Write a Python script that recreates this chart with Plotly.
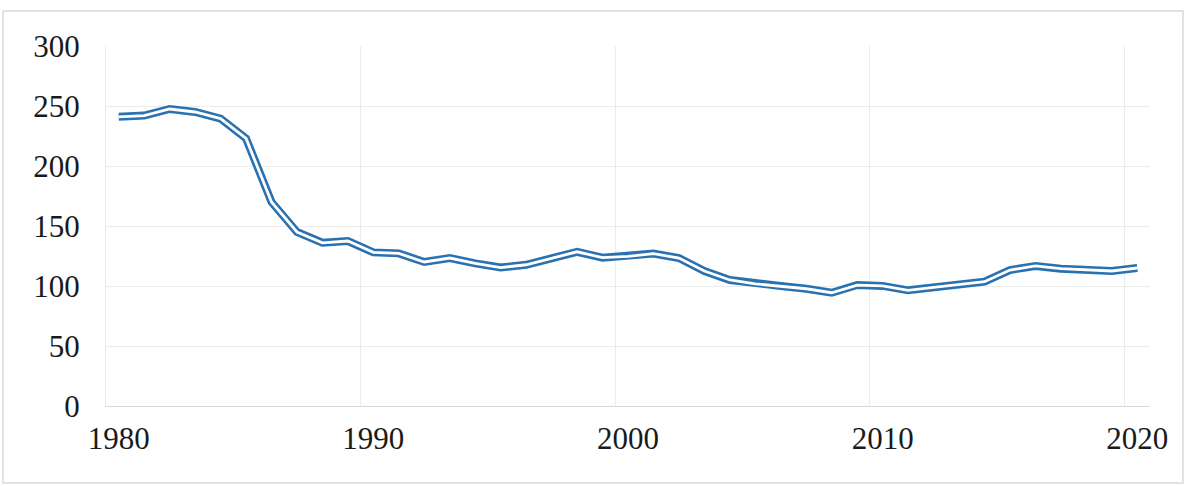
import plotly.graph_objects as go

years = list(range(1980, 2021))
values = [241, 242, 247.5, 245, 239.5, 223, 170, 145, 136, 137.5,
          128, 127.2, 120, 123.3, 118.8, 115.4, 117.7, 122.8, 128.5, 123.6,
          124.7, 127, 123.3, 112.5, 105, 101.8, 100, 97.7, 94.4, 100.8,
          100.1, 96.4, 98.9, 101.1, 103.6, 113.3, 116.7, 114.4, 113.5, 112.5,
          115]
x_tick_vals = [1980, 1990, 2000, 2010, 2020]
x_tick_text = ["1980", "1990", "2000", "2010", "2020"]
y_tick_vals = [0, 50, 100, 150, 200, 250, 300]

W, H = 1195, 486
ml, mr, mt, mb = 106, 45, 46, 80
pw, ph = W - ml - mr, H - mt - mb

blue = "#2A71B1"
grid = "#EBEBEB"
font = dict(family="Liberation Serif, Times New Roman, serif", size=31, color="#1a1a1a")

fig = go.Figure()
fig.add_trace(go.Scatter(x=years, y=values, mode="lines",
                         line=dict(color=blue, width=8), hoverinfo="skip", showlegend=False))
fig.add_trace(go.Scatter(x=years, y=values, mode="lines",
                         line=dict(color="white", width=2.8), showlegend=False))

fig.update_layout(
    width=W, height=H,
    margin=dict(l=ml, r=mr, t=mt, b=mb),
    paper_bgcolor="white", plot_bgcolor="white",
    font=font,
    xaxis=dict(range=[1979.5, 2020.5], tickmode="array", tickvals=x_tick_vals, ticktext=x_tick_text,
               showgrid=False, ticks="", showline=True, linecolor="#D9D9D9", linewidth=1.2,
               zeroline=False, ticklabelstandoff=5,
               minor=dict(tickmode="array", tickvals=[1979.5, 1989.5, 1999.5, 2009.5, 2019.5],
                          showgrid=True, gridcolor=grid, gridwidth=1.2, ticks="")),
    yaxis=dict(range=[0, 300], tickmode="array", tickvals=y_tick_vals,
               showgrid=True, gridcolor=grid, gridwidth=1.2, zeroline=False,
               showline=True, linecolor=grid, linewidth=1.2, ticks="", ticklabelstandoff=19),
    shapes=[dict(type="rect", xref="paper", yref="paper",
                 x0=(3 - ml) / pw, x1=(1183 - ml) / pw,
                 y0=(H - mb - 483) / ph, y1=(H - mb - 11) / ph,
                 line=dict(color="#D9D9D9", width=1.5), fillcolor="rgba(0,0,0,0)", layer="below")],
)

fig.write_html("out.html", config={"displayModeBar": False},
               post_script="document.body.style.margin='0px';document.body.style.overflow='hidden';")
